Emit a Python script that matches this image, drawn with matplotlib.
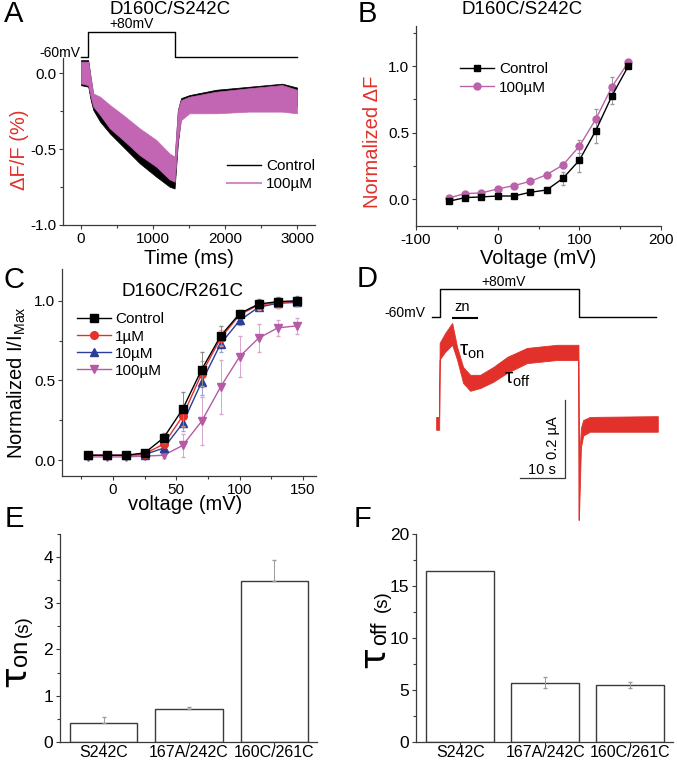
import matplotlib
matplotlib.use('Agg')
import matplotlib.pyplot as plt
from matplotlib.ticker import FixedLocator, MultipleLocator, FormatStrFormatter
from matplotlib.lines import Line2D

plt.rcParams['font.family'] = ['Liberation Sans', 'DejaVu Sans']
plt.rcParams['mathtext.fontset'] = 'custom'
plt.rcParams['mathtext.rm'] = 'Liberation Sans'
plt.rcParams['axes.unicode_minus'] = False

W, H = 677, 762
RED = '#e2312b'
PINK = '#c266b4'
GREY = '#9a9a9a'
SPINE = '#3a3a3a'

# ---- panel A: fluorescence traces (upper / lower envelope of the noisy record)
a_t = [0, 100, 135, 170, 265, 400, 585, 815, 1045, 1230, 1300, 1345, 1390, 1505, 1875, 2335, 2795, 3000]
a_ctrl_hi = [0.085, 0.085, -0.035, -0.145, -0.178, -0.243, -0.31, -0.397, -0.485, -0.55, -0.572,
             -0.243, -0.165, -0.145, -0.11, -0.09, -0.07, -0.095]
a_ctrl_lo = [-0.08, -0.09, -0.178, -0.243, -0.32, -0.397, -0.485, -0.594, -0.682, -0.748, -0.76,
             -0.463, -0.287, -0.243, -0.232, -0.22, -0.22, -0.22]
a_zn_hi = [0.075, 0.075, -0.024, -0.134, -0.156, -0.21, -0.276, -0.364, -0.44, -0.53, -0.55,
           -0.243, -0.178, -0.156, -0.123, -0.10, -0.079, -0.11]
a_zn_lo = [-0.068, -0.08, -0.156, -0.22, -0.276, -0.364, -0.44, -0.54, -0.616, -0.70, -0.715,
           -0.44, -0.31, -0.265, -0.265, -0.254, -0.254, -0.265]
a_step_t = [0, 100, 100, 1300, 1300, 3000]
a_step_mv = [-60, -60, 80, 80, -60, -60]

# ---- panel B: normalized dF vs voltage
b_v = [-60, -40, -20, 0, 20, 40, 60, 80, 100, 120, 140, 160]
b_ctrl = [-0.015, 0.013, 0.018, 0.025, 0.025, 0.053, 0.07, 0.158, 0.293, 0.514, 0.777, 1.0]
b_ctrl_err = [0.01, 0.01, 0.01, 0.01, 0.01, 0.01, 0.02, 0.05, 0.09, 0.09, 0.06, 0.01]
b_zn = [0.01, 0.043, 0.048, 0.078, 0.103, 0.135, 0.185, 0.258, 0.398, 0.60, 0.845, 1.028]
b_zn_err = [0.01, 0.01, 0.01, 0.01, 0.01, 0.01, 0.01, 0.02, 0.05, 0.08, 0.07, 0.01]

# ---- panel C: normalized current vs voltage
c_v = [-20, -5, 10, 25, 40, 55, 70, 85, 100, 115, 130, 145]
c_ctrl = [0.03, 0.03, 0.03, 0.045, 0.14, 0.32, 0.568, 0.78, 0.92, 0.98, 0.995, 1.0]
c_ctrl_err = [0.01, 0.01, 0.01, 0.01, 0.03, 0.11, 0.11, 0.06, 0.02, 0.03, 0.03, 0.03]
c_1 = [0.03, 0.03, 0.03, 0.04, 0.10, 0.276, 0.543, 0.766, 0.912, 0.975, 0.987, 0.998]
c_1_err = [0.01, 0.01, 0.01, 0.01, 0.02, 0.06, 0.08, 0.05, 0.02, 0.03, 0.03, 0.02]
c_10 = [0.03, 0.03, 0.03, 0.035, 0.075, 0.23, 0.49, 0.73, 0.877, 0.96, 0.985, 0.99]
c_10_err = [0.01, 0.01, 0.01, 0.01, 0.02, 0.05, 0.08, 0.05, 0.03, 0.02, 0.03, 0.02]
c_100 = [0.02, 0.02, 0.02, 0.025, 0.03, 0.092, 0.244, 0.46, 0.65, 0.766, 0.83, 0.843]
c_100_err = [0.01, 0.01, 0.01, 0.01, 0.02, 0.07, 0.15, 0.17, 0.13, 0.09, 0.05, 0.05]

# ---- panel D: current trace envelope (s, uA)
d_t = [0, 0.67, 0.78, 2.0, 3.56, 4.67, 6.0, 7.56, 9.78, 12.7, 15.8, 20.2, 26.9, 31.6,
       31.65, 31.75, 32.2, 32.7, 34.2, 49.3]
d_lo = [-0.015, -0.015, 0.165, 0.185, 0.203, 0.164, 0.105, 0.085, 0.092, 0.108, 0.131, 0.156,
        0.164, 0.164, -0.246, -0.246, -0.06, -0.03, -0.02, -0.02]
d_hi = [0.018, 0.018, 0.208, 0.233, 0.259, 0.197, 0.146, 0.126, 0.126, 0.146, 0.172, 0.195,
        0.203, 0.203, 0.203, -0.10, -0.01, 0.01, 0.018, 0.02]
d_step_t = [-0.9, 0.9, 0.9, 31.8, 31.8, 48.9]
d_step_mv = [-60, -60, 80, 80, -60, -60]
d_zn_t = [3.8, 9.1]

# ---- panels E/F: time constants
bar_names = ['S242C', '167A/242C', '160C/261C']
tau_on = [0.40, 0.72, 3.48]
tau_on_err = [0.13, 0.04, 0.45]
tau_off = [16.45, 5.72, 5.47]
tau_off_err = [0.0, 0.56, 0.26]

fig = plt.figure(figsize=(W / 100, H / 100), dpi=100)


def add_axes_px(l, t, r, b):
    return fig.add_axes([l / W, 1 - b / H, (r - l) / W, (b - t) / H])


def ptext(x, y, s, **kw):
    kw.setdefault('ha', 'center')
    kw.setdefault('va', 'center')
    fig.text(x / W, 1 - y / H, s, **kw)


def vlabel(x, y, s, **kw):
    # rotated text whose baseline runs up the line x, starting at y
    fig.text(x / W, 1 - y / H, s, rotation=90, rotation_mode='anchor',
             ha='left', va='baseline', **kw)


def style(ax, fs=11):
    for s in ['top', 'right']:
        ax.spines[s].set_visible(False)
    for s in ['left', 'bottom']:
        ax.spines[s].set_color(SPINE)
        ax.spines[s].set_linewidth(0.9)
    ax.tick_params(which='major', direction='out', length=3, width=0.8, color=SPINE, labelsize=fs, pad=2)
    ax.tick_params(which='minor', direction='out', length=2, width=0.8, color=SPINE)


# ================= A
axA = add_axes_px(63, 20, 315, 225)
axA.set_xlim(-250, 3250)
axA.set_ylim(-1.0, 0.349)
axA.fill_between(a_t, a_ctrl_lo, a_ctrl_hi, color='black', lw=0.5)
axA.fill_between(a_t, a_zn_lo, a_zn_hi, color=PINK, lw=0.5)
step_y = [0.105 + (v + 60) / 140 * 0.165 for v in a_step_mv]
axA.plot(a_step_t, step_y, color='black', lw=1, clip_on=False)
axA.text(-300, 0.13, '-60mV', fontsize=10, ha='center', va='center', clip_on=False)
axA.text(700, 0.322, '+80mV', fontsize=10, ha='center', va='center')
style(axA)
axA.spines['left'].set_bounds(-1.0, 0.1)
axA.yaxis.set_major_locator(FixedLocator([-1.0, -0.5, 0.0]))
axA.yaxis.set_minor_locator(FixedLocator([-0.75, -0.25]))
axA.yaxis.set_major_formatter(FormatStrFormatter('%.1f'))
axA.xaxis.set_major_locator(MultipleLocator(1000))
axA.xaxis.set_minor_locator(MultipleLocator(500))
axA.legend(handles=[Line2D([], [], color='black', lw=1), Line2D([], [], color='#cf8fc6', lw=1.5)],
           labels=['Control', '100\u00b5M'], loc='upper left', bbox_to_anchor=(0.651, 0.32),
           frameon=False, fontsize=11, handlelength=2.2, handletextpad=0.35,
           borderpad=0, borderaxespad=0, labelspacing=0.25)
ptext(170, 10, 'D160C/S242C', fontsize=13.5)
ptext(189, 259, 'Time (ms)', fontsize=14.5)
ptext(19.5, 150, '\u0394F/F (%)', fontsize=14.5, color=RED, rotation=90)

# ================= B
axB = add_axes_px(416, 26, 661, 226)
axB.set_xlim(-100, 200)
axB.set_ylim(-0.2, 1.3)
axB.errorbar(b_v, b_zn, yerr=b_zn_err, fmt='none', ecolor=GREY, elinewidth=0.7, capsize=1.5)
axB.errorbar(b_v, b_ctrl, yerr=b_ctrl_err, fmt='none', ecolor=GREY, elinewidth=0.7, capsize=1.5)
axB.plot(b_v, b_zn, color='#bb62a8', marker='o', ms=5, lw=1, label='100\u00b5M')
axB.plot(b_v, b_ctrl, color='black', marker='s', ms=4.5, lw=1, label='Control')
style(axB)
axB.xaxis.set_major_locator(MultipleLocator(100))
axB.xaxis.set_minor_locator(MultipleLocator(50))
axB.yaxis.set_major_locator(FixedLocator([0.0, 0.5, 1.0]))
axB.yaxis.set_minor_locator(FixedLocator([0.25, 0.75, 1.25]))
axB.yaxis.set_major_formatter(FormatStrFormatter('%.1f'))
h, l = axB.get_legend_handles_labels()
axB.legend(h[::-1], l[::-1], loc='upper left', bbox_to_anchor=(0.18, 0.82), frameon=False, fontsize=11,
           handlelength=2.2, handletextpad=0.35, borderpad=0, borderaxespad=0, labelspacing=0.3)
ptext(522, 10, 'D160C/S242C', fontsize=13.5)
ptext(538, 259, 'Voltage (mV)', fontsize=14.5)
ptext(373, 142, 'Normalized \u0394F', fontsize=14.5, color=RED, rotation=90)

# ================= C
axC = add_axes_px(62.4, 269, 315.6, 476)
axC.set_xlim(-40, 160)
axC.set_ylim(-0.1, 1.2)
series = [
    (c_100, c_100_err, '#b65aa6', 'v', '100\u00b5M', '#d9a6cf'),
    (c_10, c_10_err, '#2b3d9a', '^', '10\u00b5M', '#9aa3cc'),
    (c_1, c_1_err, '#e8302a', 'o', '1\u00b5M', '#f0a09a'),
    (c_ctrl, c_ctrl_err, 'black', 's', 'Control', '#8a8a8a'),
]
handlesC = []
for y, e, col, m, lab, ecol in series:
    axC.errorbar(c_v, y, yerr=e, fmt='none', ecolor=ecol, elinewidth=0.7, capsize=1.5)
    ln, = axC.plot(c_v, y, color=col, marker=m, ms=5.5, lw=1, label=lab)
    handlesC.append(ln)
style(axC)
axC.xaxis.set_major_locator(MultipleLocator(50))
axC.xaxis.set_minor_locator(MultipleLocator(25))
axC.yaxis.set_major_locator(FixedLocator([0.0, 0.5, 1.0]))
axC.yaxis.set_minor_locator(FixedLocator([0.25, 0.75]))
axC.yaxis.set_major_formatter(FormatStrFormatter('%.1f'))
axC.legend(handlesC[::-1], [hh.get_label() for hh in handlesC[::-1]], loc='upper left',
           bbox_to_anchor=(0.058, 0.79), frameon=False, fontsize=11, handlelength=2.2,
           handletextpad=0.3, borderpad=0, borderaxespad=0, labelspacing=0.2)
ptext(183, 292, 'D160C/R261C', fontsize=13.5)
ptext(185, 505, 'voltage (mV)', fontsize=14.5)
ptext(17, 383, r'Normalized I/I$\mathregular{_{Max}}$', fontsize=14.5, rotation=90)

# ================= D
axD = add_axes_px(375, 275, 665, 530)
axD.set_xlim(-13.6, 50.9)
axD.set_ylim(-0.272, 0.382)
axD.axis('off')
axD.fill_between(d_t, d_lo, d_hi, color=RED, lw=0.6)
d_step_y = [0.274 + (v + 60) / 140 * 0.072 for v in d_step_mv]
axD.plot(d_step_t, d_step_y, color='black', lw=1)
axD.plot(d_zn_t, [0.272, 0.272], color='black', lw=1.5)
axD.text(5.8, 0.30, 'zn', fontsize=10.5, ha='center', va='center')
axD.text(-6.9, 0.285, '-60mV', fontsize=10, ha='center', va='center')
axD.text(15.1, 0.364, '+80mV', fontsize=10, ha='center', va='center')
axD.text(8.0, 0.185, r'$\mathregular{\tau_{on}}$', fontsize=15, ha='center', va='center')
axD.text(18.0, 0.113, r'$\mathregular{\tau_{off}}$', fontsize=15, ha='center', va='center')
# scale bar: 10 s, 0.2 uA
axD.plot([18.7, 28.7, 28.7], [-0.138, -0.138, 0.062], color=SPINE, lw=0.9)
axD.text(26.0, -0.035, '0.2 \u00b5A', fontsize=10.5, rotation=90, ha='center', va='center')
axD.text(23.5, -0.118, '10 s', fontsize=10.5, ha='center', va='center')

# ================= E
axE = add_axes_px(60, 533.6, 317, 742)
axE.bar([1, 2, 3], tau_on, width=0.79, color='white', edgecolor=SPINE, lw=1)
axE.errorbar([1, 2, 3], tau_on, yerr=[[0, 0, 0], tau_on_err], fmt='none', ecolor=GREY,
             elinewidth=0.7, capsize=1.5)
axE.set_xlim(0.49, 3.5)
axE.set_ylim(0, 4.5)
style(axE, fs=12.5)
axE.tick_params(axis='x', length=2.5, pad=-0.5)
axE.set_xticks([1, 2, 3])
axE.set_xticklabels(bar_names, fontsize=11.5)
axE.yaxis.set_major_locator(MultipleLocator(1))
axE.yaxis.set_minor_locator(MultipleLocator(0.5))
vlabel(27, 689, r'$\mathrm{\tau}$', fontsize=26, math_fontfamily='dejavusans')
vlabel(27, 666, 'on', fontsize=17)
vlabel(28, 637, '(s)', fontsize=13.5)

# ================= F
axF = add_axes_px(416, 534, 673, 742)
axF.bar([1, 2, 3], tau_off, width=0.8, color='white', edgecolor=SPINE, lw=1)
axF.errorbar([2, 3], tau_off[1:], yerr=tau_off_err[1:], fmt='none', ecolor=GREY,
             elinewidth=0.7, capsize=1.5)
axF.set_xlim(0.48, 3.5)
axF.set_ylim(0, 20)
style(axF, fs=12.5)
axF.tick_params(axis='x', length=2.5, pad=-0.5)
axF.set_xticks([1, 2, 3])
axF.set_xticklabels(bar_names, fontsize=11.5)
axF.yaxis.set_major_locator(MultipleLocator(5))
axF.yaxis.set_minor_locator(MultipleLocator(2.5))
vlabel(386, 670, r'$\mathrm{\tau}$', fontsize=26, math_fontfamily='dejavusans')
vlabel(386, 645, 'off', fontsize=15.5)
vlabel(387, 612, '(s)', fontsize=13.5)

# panel letters
for lab, x, y in [('A', 14, 14), ('B', 367, 14), ('C', 14, 280), ('D', 367, 279), ('E', 14, 519), ('F', 363, 519)]:
    ptext(x, y, lab, fontsize=21)

fig.savefig('out.png', dpi=100)
